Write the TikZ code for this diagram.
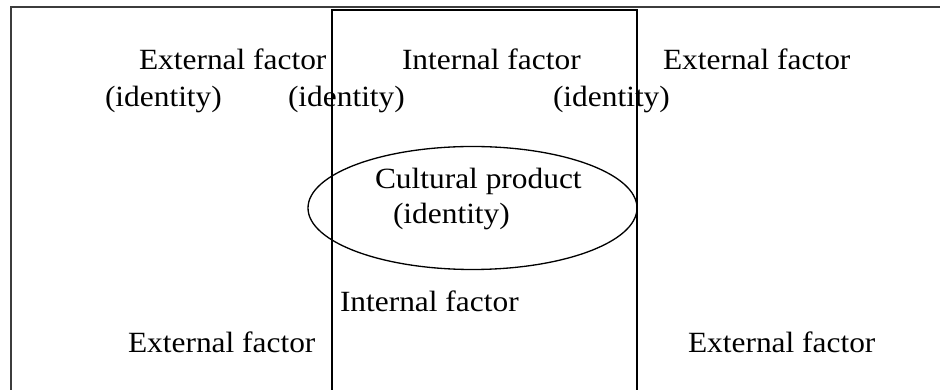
\documentclass[tikz,border=0pt]{standalone}
\usepackage{fontspec}
\setmainfont[FakeStretch=1.07]{Liberation Serif}
\usepackage{tikz}
\usetikzlibrary{shapes.geometric}
\definecolor{frameink}{RGB}{60,60,60}

\begin{document}
\begin{tikzpicture}[
  font=\fontsize{16.7}{20}\selectfont,
  label/.style={anchor=base west, inner sep=0pt, outer sep=0pt},
  frame/.style={draw=frameink, line width=1.1pt},
  innerframe/.style={draw=black, line width=0.85pt},
  product/.style={ellipse, draw=black, line width=0.75pt, inner sep=0pt,
                  minimum width=6.58cm, minimum height=2.46cm},
]
\clip (0,0) rectangle (18.8,7.8);

% -------------------------------------------------------------------------
% Outer frame (external) and inner frame (internal), both open at the cut.
% -------------------------------------------------------------------------
\draw[frame] (0.22,-1) -- (0.22,7.66) -- (20,7.66);
\draw[innerframe] (6.64,-1) -- (6.64,7.60) -- (12.74,7.60) -- (12.74,-1);

% cultural product
\node[product] (prod) at (9.45,3.64) {};

% -------------------------------------------------------------------------
% Top row of labels.
% -------------------------------------------------------------------------
\node[label] (extTL) at (2.78,6.40) {External factor};
\node[label] (intT)  at (8.04,6.40) {Internal factor};
\node[label] (extTR) at (13.26,6.40) {External factor};

\node[label] (idL) at (2.10,5.66) {(identity)};
\node[label] (idM) at (5.76,5.66) {(identity)};
\node[label] (idR) at (11.06,5.66) {(identity)};

% -------------------------------------------------------------------------
% Inside the ellipse.
% -------------------------------------------------------------------------
\node[label] (prodname) at (7.50,4.02) {Cultural product};
\node[label] (prodid)   at (7.86,3.32) {(identity)};

% -------------------------------------------------------------------------
% Bottom labels.
% -------------------------------------------------------------------------
\node[label] (intB)  at (6.80,1.56) {Internal factor};
\node[label] (extBL) at (2.56,0.74) {External factor};
\node[label] (extBR) at (13.76,0.74) {External factor};

\end{tikzpicture}
\end{document}
